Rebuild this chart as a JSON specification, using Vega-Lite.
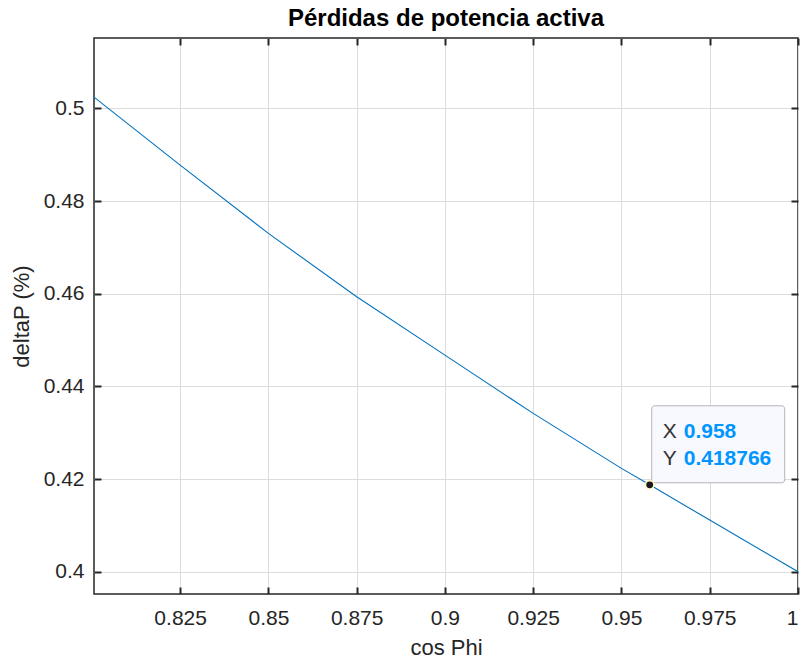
{
  "$schema": "https://vega.github.io/schema/vega-lite/v6.json",
  "autosize": {"type": "none"},
  "width": 704,
  "height": 556,
  "padding": {"left": 94, "top": 38, "right": 5, "bottom": 70},
  "background": "#ffffff",
  "config": {
    "font": "Liberation Sans",
    "view": {"stroke": "#262626", "strokeWidth": 1.5},
    "axis": {
      "labelFont": "Liberation Sans",
      "titleFont": "Liberation Sans",
      "labelColor": "#262626",
      "titleColor": "#262626",
      "labelFontSize": 21,
      "titleFontSize": 22,
      "titleFontWeight": "normal",
      "gridColor": "#dcdcdc",
      "gridWidth": 1,
      "domain": false,
      "tickColor": "#262626",
      "tickWidth": 2
    }
  },
  "title": {
    "text": "Pérdidas de potencia activa",
    "font": "Liberation Sans",
    "fontSize": 24,
    "fontWeight": "bold",
    "color": "#000000",
    "offset": 6,
    "anchor": "middle"
  },
  "datasets": {
    "curve": [
      {"cosphi": 0.8006, "deltaP": 0.50244},
      {"cosphi": 0.825, "deltaP": 0.48776},
      {"cosphi": 0.85, "deltaP": 0.47303},
      {"cosphi": 0.875, "deltaP": 0.45934},
      {"cosphi": 0.9, "deltaP": 0.44676},
      {"cosphi": 0.925, "deltaP": 0.43418},
      {"cosphi": 0.95, "deltaP": 0.42231},
      {"cosphi": 0.958, "deltaP": 0.418766},
      {"cosphi": 0.975, "deltaP": 0.41115},
      {"cosphi": 1.0, "deltaP": 0.4}
    ],
    "tip": [
      {"cosphi": 0.958, "deltaP": 0.418766, "xl": "X", "yl": "Y"}
    ]
  },
  "layer": [
    {
      "data": {"name": "curve"},
      "mark": {"type": "line", "color": "#0072BD", "strokeWidth": 1.1, "clip": true},
      "encoding": {
        "x": {
          "field": "cosphi", "type": "quantitative",
          "scale": {"domain": [0.8006, 1], "nice": false, "zero": false},
          "axis": {
            "orient": "bottom",
            "title": "cos Phi",
            "values": [0.825, 0.85, 0.875, 0.9, 0.925, 0.95, 0.975, 1],
            "labelExpr": "format(datum.value, '.3~f')",
            "ticks": true,
            "tickSize": -7,
            "labelPadding": 20,
            "titlePadding": 9,
            "grid": true
          }
        },
        "y": {
          "field": "deltaP", "type": "quantitative",
          "scale": {"domain": [0.3952, 0.5152], "nice": false, "zero": false},
          "axis": {
            "orient": "left",
            "title": "deltaP (%)",
            "values": [0.4, 0.42, 0.44, 0.46, 0.48, 0.5],
            "labelExpr": "format(datum.value, '.2~f')",
            "ticks": true,
            "tickSize": -7,
            "labelPadding": 17,
            "titlePadding": 10,
            "grid": true
          }
        }
      }
    },
    {
      "data": {"name": "tip"},
      "mark": {"type": "point", "filled": true, "opacity": 0, "size": 1},
      "encoding": {
        "x": {"field": "cosphi", "type": "quantitative",
          "axis": {"orient": "top", "values": [0.825, 0.85, 0.875, 0.9, 0.925, 0.95, 0.975, 1], "labels": false, "title": null, "grid": false, "ticks": true, "tickSize": -7}},
        "y": {"field": "deltaP", "type": "quantitative",
          "axis": {"orient": "right", "values": [0.4, 0.42, 0.44, 0.46, 0.48, 0.5], "labels": false, "title": null, "grid": false, "ticks": true, "tickSize": -7}}
      }
    },
    {
      "data": {"name": "tip"},
      "mark": {"type": "rect", "fill": "#f8f8ff", "stroke": "#b4b4b4", "strokeWidth": 1, "cornerRadius": 3,
        "xOffset": 2, "x2Offset": 135, "yOffset": -79, "y2Offset": -2},
      "encoding": {
        "x": {"field": "cosphi", "type": "quantitative", "axis": null},
        "x2": {"field": "cosphi"},
        "y": {"field": "deltaP", "type": "quantitative", "axis": null},
        "y2": {"field": "deltaP"}
      }
    },
    {
      "data": {"name": "tip"},
      "mark": {"type": "point", "filled": true, "size": 70, "fill": "#1a1a1a", "stroke": "#fff8c8", "strokeWidth": 1.5, "opacity": 1},
      "encoding": {
        "x": {"field": "cosphi", "type": "quantitative", "axis": null},
        "y": {"field": "deltaP", "type": "quantitative", "axis": null}
      }
    },
    {
      "data": {"name": "tip"},
      "mark": {"type": "text", "align": "left", "baseline": "alphabetic", "dx": 13, "dy": -47, "fontSize": 21, "color": "#333333", "font": "Liberation Sans"},
      "encoding": {
        "x": {"field": "cosphi", "type": "quantitative", "axis": null},
        "y": {"field": "deltaP", "type": "quantitative", "axis": null},
        "text": {"field": "xl"}
      }
    },
    {
      "data": {"name": "tip"},
      "mark": {"type": "text", "align": "left", "baseline": "alphabetic", "dx": 13, "dy": -20, "fontSize": 21, "color": "#333333", "font": "Liberation Sans"},
      "encoding": {
        "x": {"field": "cosphi", "type": "quantitative", "axis": null},
        "y": {"field": "deltaP", "type": "quantitative", "axis": null},
        "text": {"field": "yl"}
      }
    },
    {
      "data": {"name": "tip"},
      "mark": {"type": "text", "align": "left", "baseline": "alphabetic", "dx": 34, "dy": -47, "fontSize": 21, "fontWeight": "bold", "color": "#0096FF", "font": "Liberation Sans"},
      "encoding": {
        "x": {"field": "cosphi", "type": "quantitative", "axis": null},
        "y": {"field": "deltaP", "type": "quantitative", "axis": null},
        "text": {"field": "cosphi", "type": "quantitative", "format": ".3f"}
      }
    },
    {
      "data": {"name": "tip"},
      "mark": {"type": "text", "align": "left", "baseline": "alphabetic", "dx": 34, "dy": -20, "fontSize": 21, "fontWeight": "bold", "color": "#0096FF", "font": "Liberation Sans"},
      "encoding": {
        "x": {"field": "cosphi", "type": "quantitative", "axis": null},
        "y": {"field": "deltaP", "type": "quantitative", "axis": null},
        "text": {"field": "deltaP", "type": "quantitative", "format": ".6f"}
      }
    }
  ],
  "resolve": {"axis": {"x": "independent", "y": "independent"}}
}
